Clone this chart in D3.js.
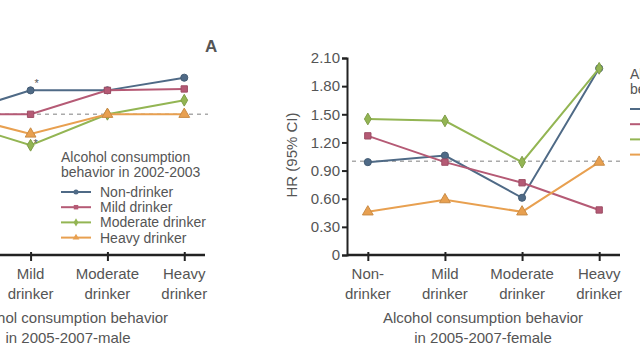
<!DOCTYPE html>
<html><head><meta charset="utf-8">
<script src="https://cdn.jsdelivr.net/npm/d3@7"></script>
<style>
html,body{margin:0;padding:0;background:#fff;overflow:hidden}
text{font-family:"Liberation Sans Narrow","Liberation Sans",Arial,sans-serif;fill:#555}
</style></head><body>
<svg id="c" width="640" height="360"></svg>
<script>
const categories = ["Non-drinker","Mild drinker","Moderate drinker","Heavy drinker"];
const seriesNames = ["Non-drinker","Mild drinker","Moderate drinker","Heavy drinker"];
// Panel A (male) HR values
const maleNon = [1.00, 1.17, 1.17, 1.26];
const maleMild = [1.00, 1.00, 1.17, 1.18];
const maleModerate = [0.95, 0.78, 1.00, 1.10];
const maleHeavy = [1.00, 0.86, 1.00, 1.00];
// Panel B (female) HR values
const femaleNon = [0.99, 1.06, 0.61, 1.99];
const femaleMild = [1.27, 0.99, 0.77, 0.48];
const femaleModerate = [1.45, 1.43, 0.99, 1.99];
const femaleHeavy = [0.46, 0.59, 0.46, 0.99];
const maleTicks = [0, 0.2, 0.4, 0.6, 0.8, 1.0, 1.2, 1.4];
const femaleTicks = [0, 0.3, 0.6, 0.9, 1.2, 1.5, 1.8, 2.1];

const colors = ["#4f6a86", "#b55a75", "#93b553", "#e8a050"];
const shapes = [d3.symbolCircle, d3.symbolSquare, d3.symbolDiamond, d3.symbolTriangle];
const svg = d3.select("#c");

function panel(opts){
  const g = svg.append("g");
  const x = d3.scalePoint().domain(categories).range([opts.x0, opts.x1]).padding(0.27);
  const y = d3.scaleLinear().domain([0, opts.ymax]).range([255, 58]);
  // reference dashed line
  g.append("line").attr("x1", opts.dx0).attr("x2", opts.dx1)
    .attr("y1", y(1)).attr("y2", y(1))
    .attr("stroke", "#aaa").attr("stroke-width", 1.5).attr("stroke-dasharray", "4,4");
  // y axis
  const ya = g.append("g").attr("transform", `translate(${opts.x0},0)`)
    .call(d3.axisLeft(y).tickValues(opts.ticks).tickSize(5).tickPadding(2)
      .tickFormat(d => opts.showYLabels ? (d === 0 ? "0" : d3.format(".2f")(d)) : ""));
  ya.select(".domain").attr("stroke", "#222").attr("stroke-width", 2);
  ya.selectAll(".tick line").attr("stroke", "#222").attr("stroke-width", 2);
  ya.selectAll("text").style("font-size", "15px").attr("fill", "#555");
  // x axis
  const xa = g.append("g").attr("transform", "translate(0,255)")
    .call(d3.axisBottom(x).tickSize(6).tickFormat(""));
  xa.select(".domain").attr("stroke", "#222").attr("stroke-width", 2.5).attr("d", `M${opts.x0},0H${opts.x1}`);
  xa.selectAll(".tick line").attr("stroke", "#222").attr("stroke-width", 2).attr("y1", -3);
  const labLines = {"Non-drinker":["Non-","drinker"],"Mild drinker":["Mild","drinker"],
                    "Moderate drinker":["Moderate","drinker"],"Heavy drinker":["Heavy","drinker"]};
  categories.forEach(c => {
    labLines[c].forEach((t,i) => {
      g.append("text").attr("x", x(c)).attr("y", 279 + i*20).attr("text-anchor","middle")
        .style("font-size","15px").text(t);
    });
  });
  // x title
  opts.xtitle.forEach((t,i) => {
    g.append("text").attr("x", opts.titleX).attr("y", 323 + i*20).attr("text-anchor","middle")
      .style("font-size","15px").attr("fill","#555").text(t);
  });
  // series
  opts.series.forEach((vals, si) => {
    const line = d3.line().x((d,i)=>x(categories[i])).y(d=>y(d));
    g.append("path").datum(vals).attr("d", line).attr("fill","none")
      .attr("stroke", colors[si]).attr("stroke-width", 2);
    g.selectAll(null).data(vals).enter().append("path")
      .attr("transform", (d,i)=>`translate(${x(categories[i])},${y(d)})`)
      .attr("d", d3.symbol().type(shapes[si]).size(si===3?50:40))
      .attr("fill", colors[si]).attr("stroke", d3.color(colors[si]).darker(0.4)).attr("stroke-width",1);
  });
  return {x, y, g};
}

const A = panel({x0:-67, x1:205, ymax:1.40, ticks:maleTicks, showYLabels:false, dx0:-67, dx1:208, titleX:68,
  xtitle:["Alcohol consumption behavior","in 2005-2007-male"],
  series:[maleNon, maleMild, maleModerate, maleHeavy]});
// significance marks
A.g.append("text").attr("x", A.x(categories[1]) + 4).attr("y", A.y(maleNon[1]) - 3)
  .style("font-size","11px").attr("fill","#c03030").text("*");
A.g.append("text").attr("x", A.x(categories[1]) + 3).attr("y", A.y(maleHeavy[1]) + 13)
  .style("font-size","11px").attr("fill","#333").text("*");
svg.append("text").attr("x", 205).attr("y", 52).style("font-size","17px").style("font-weight","bold")
  .attr("fill","#111").style("font-family","Liberation Sans, Arial, sans-serif").text("A");

const B = panel({x0:347, x1:620, ymax:2.10, ticks:femaleTicks, showYLabels:true, dx0:352, dx1:622, titleX:483,
  xtitle:["Alcohol consumption behavior","in 2005-2007-female"],
  series:[femaleNon, femaleMild, femaleModerate, femaleHeavy]});
svg.append("text").attr("transform","translate(297,155) rotate(-90)").attr("text-anchor","middle")
  .style("font-size","15px").text("HR (95% CI)");

function legend(x0, y0, title){
  const g = svg.append("g");
  title.forEach((t,i)=> g.append("text").attr("x", x0).attr("y", y0 + i*15)
    .style("font-size","14px").attr("fill","#444").text(t));
  seriesNames.forEach((n,i)=>{
    const yy = y0 + 30 + i*15.2;
    g.append("line").attr("x1", x0).attr("x2", x0+30).attr("y1", yy).attr("y2", yy)
      .attr("stroke", colors[i]).attr("stroke-width", 2);
    g.append("path").attr("transform",`translate(${x0+15},${yy})`)
      .attr("d", d3.symbol().type(shapes[i]).size(20)).attr("fill", colors[i]);
    g.append("text").attr("x", x0+39).attr("y", yy+5).style("font-size","14px").attr("fill","#444").text(n);
  });
}
legend(61, 162, ["Alcohol consumption","behavior in 2002-2003"]);
legend(630, 79, ["Alcohol consumption","behavior in 2002-2003"]);
</script></body></html>
